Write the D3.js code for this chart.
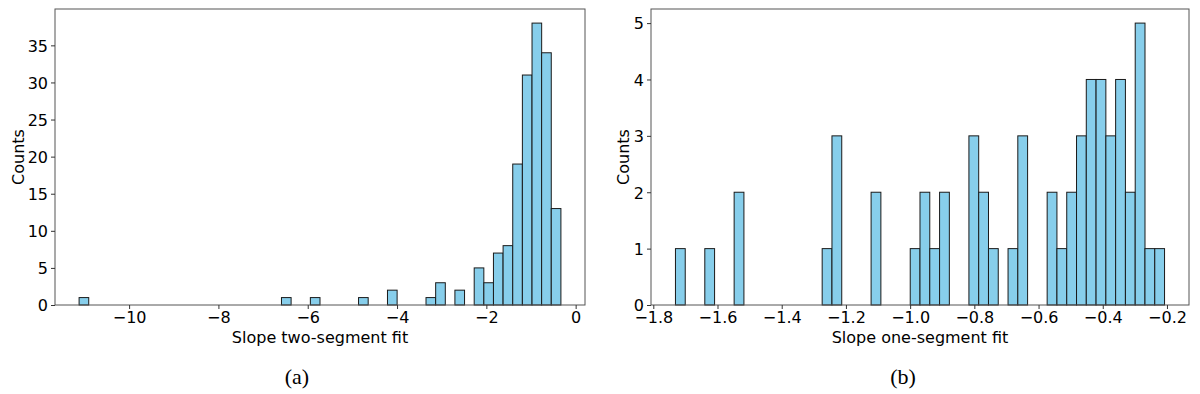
<!DOCTYPE html>
<html>
<head>
<meta charset="utf-8">
<script src="https://cdn.jsdelivr.net/npm/d3@7/dist/d3.min.js"></script>
<style>
  body { margin: 0; background: #fff; }
  svg { display: block; }
  .axis text { font-family: "DejaVu Sans", sans-serif; font-size: 16px; fill: #000; }
  .axis path, .axis line { stroke: #333; }
</style>
</head>
<body>
<svg id="fig" width="1200" height="394"></svg>
<script>
// (a) two-segment fit: left edge of each non-empty bin, and its count
const binWidthA = 0.2158;
const binStartA = [-11.120, -6.588, -5.941, -4.862, -4.214, -3.351, -3.135, -2.704,
  -2.272, -2.056, -1.841, -1.625, -1.409, -1.193, -0.977, -0.762, -0.546];
const countsA = [1, 1, 1, 1, 2, 1, 3, 2, 5, 3, 7, 8, 19, 31, 38, 34, 13];
const xTicksA = [-10, -8, -6, -4, -2, 0];
const yTicksA = [0, 5, 10, 15, 20, 25, 30, 35];

// (b) one-segment fit
const binWidthB = 0.03047;
const binStartB = [-1.7310, -1.6396, -1.5482, -1.2740, -1.2435, -1.1216, -0.9997, -0.9693,
  -0.9388, -0.9083, -0.8169, -0.7864, -0.7560, -0.6950, -0.6646, -0.5732, -0.5427,
  -0.5122, -0.4817, -0.4513, -0.4208, -0.3903, -0.3599, -0.3294, -0.2989, -0.2685, -0.2380];
const countsB = [1, 1, 2, 1, 3, 2, 1, 2, 1, 2, 3, 2, 1, 1, 3, 2, 1, 2, 3, 4, 4, 3, 4, 2, 5, 1, 1];
const xTicksB = [-1.8, -1.6, -1.4, -1.2, -1.0, -0.8, -0.6, -0.4, -0.2];
const yTicksB = [0, 1, 2, 3, 4, 5];

class Histogram {
  constructor(opts) {
    Object.assign(this, opts);
    this.init();
  }

  init() {
    const lo = this.starts[0];
    const hi = this.starts[this.starts.length - 1] + this.binWidth;
    const pad = (hi - lo) * 0.05; // matplotlib style margins
    this.x = d3.scaleLinear().domain([lo - pad, hi + pad]).range([this.box.left, this.box.right]);
    this.y = d3.scaleLinear().domain([0, d3.max(this.counts) * 1.05]).range([this.box.bottom, this.box.top]);
    this.g = this.svg.append('g');
    this.renderBars();
    this.renderAxis();
    this.renderLabels();
  }

  renderBars() {
    const data = this.starts.map((s, i) => ({x0: s, n: this.counts[i]}));
    this.g.append('g')
      .selectAll('rect')
      .data(data)
      .enter()
      .append('rect')
      .attr('x', d => this.x(d.x0))
      .attr('width', d => this.x(d.x0 + this.binWidth) - this.x(d.x0))
      .attr('y', d => this.y(d.n))
      .attr('height', d => this.y(0) - this.y(d.n))
      .attr('fill', '#87ceeb')
      .attr('stroke', '#1a1a1a')
      .attr('stroke-width', 1);
  }

  renderAxis() {
    const b = this.box;
    this.g.append('rect') // frame
      .attr('x', b.left).attr('y', b.top)
      .attr('width', b.right - b.left).attr('height', b.bottom - b.top)
      .attr('fill', 'none').attr('stroke', '#555').attr('stroke-width', 1);

    const xa = this.g.append('g')
      .attr('class', 'axis')
      .attr('transform', 'translate(0,' + b.bottom + ')')
      .call(d3.axisBottom(this.x).tickValues(this.xTicks).tickFormat(this.xFormat).tickSize(4).tickPadding(3));
    xa.select('.domain').remove();

    const ya = this.g.append('g')
      .attr('class', 'axis')
      .attr('transform', 'translate(' + b.left + ',0)')
      .call(d3.axisLeft(this.y).tickValues(this.yTicks).tickFormat(d3.format('d')).tickSize(4).tickPadding(3));
    ya.select('.domain').remove();
    ya.selectAll('text').attr('dy', '0.36em');
  }

  renderLabels() {
    const b = this.box;
    this.g.append('text')
      .attr('x', (b.left + b.right) / 2)
      .attr('y', b.bottom + 38)
      .attr('text-anchor', 'middle')
      .attr('font-family', 'DejaVu Sans, sans-serif')
      .attr('font-size', '16px')
      .text(this.xLabel);

    this.g.append('text')
      .attr('transform', 'translate(' + this.yLabelX + ',' + ((b.top + b.bottom) / 2) + ') rotate(-90)')
      .attr('text-anchor', 'middle')
      .attr('dy', '0.36em')
      .attr('font-family', 'DejaVu Sans, sans-serif')
      .attr('font-size', '16px')
      .text('Counts');

    this.g.append('text')
      .attr('x', this.captionX)
      .attr('y', 384)
      .attr('text-anchor', 'middle')
      .attr('font-family', 'Liberation Serif, Times New Roman, serif')
      .attr('font-size', '22px')
      .text(this.caption);
  }
}

const svg = d3.select('#fig');

new Histogram({
  svg,
  box: {left: 55, right: 585, top: 9, bottom: 305},
  starts: binStartA, counts: countsA, binWidth: binWidthA,
  xTicks: xTicksA, yTicks: yTicksA, xFormat: d3.format('d'),
  xLabel: 'Slope two-segment fit', yLabelX: 18, caption: '(a)', captionX: 297
});

new Histogram({
  svg,
  box: {left: 651, right: 1189, top: 9, bottom: 305},
  starts: binStartB, counts: countsB, binWidth: binWidthB,
  xTicks: xTicksB, yTicks: yTicksB, xFormat: d3.format('.1f'),
  xLabel: 'Slope one-segment fit', yLabelX: 623, caption: '(b)', captionX: 903
});
</script>
</body>
</html>
